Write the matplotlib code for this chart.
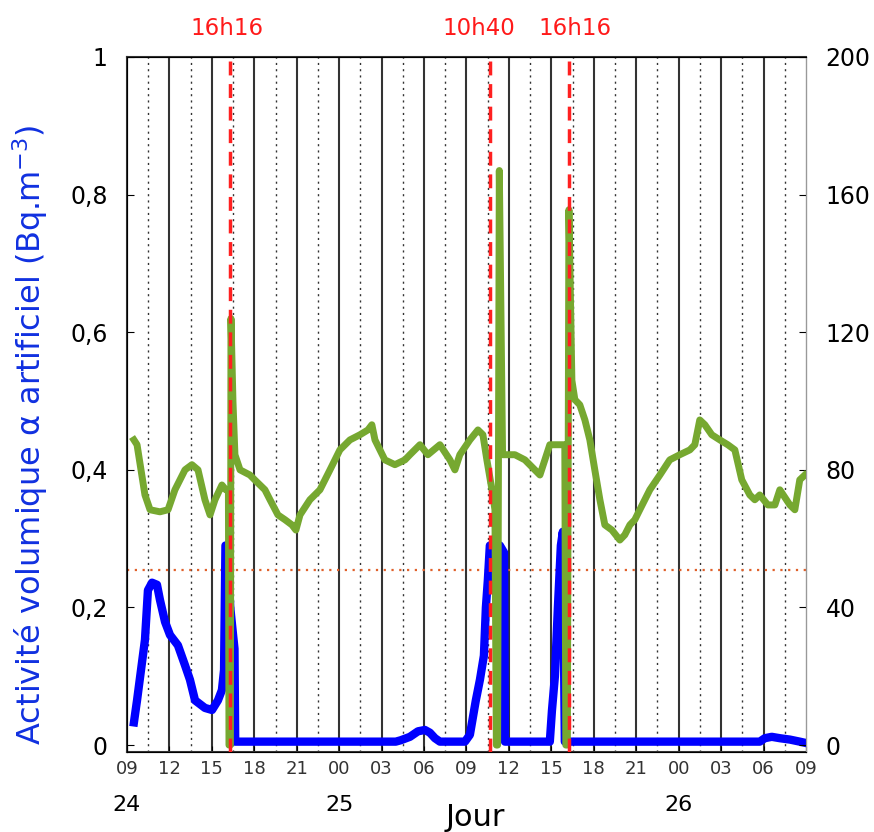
import numpy as np
import matplotlib
matplotlib.use("Agg")
import matplotlib.pyplot as plt
import matplotlib.transforms as mtransforms

# temps en heures depuis le 24 a 09h00
green_t = [0.49, 0.71, 0.99, 1.27, 1.63, 2.33, 2.90, 3.39, 4.10, 4.59, 5.02, 5.51, 5.87, 6.22,
           6.71, 6.99, 7.17, 7.21, 7.31, 7.35, 7.49, 7.63, 7.99, 8.69, 9.05, 9.75, 10.11, 10.67,
           11.17, 11.66, 11.94, 12.23, 12.93, 13.64, 14.35, 14.70, 15.05, 15.76, 16.47, 17.03,
           17.31, 17.53, 18.23, 18.94, 19.65, 20.00, 20.71, 21.27, 22.12, 22.83, 23.18, 23.53,
           24.24, 24.81, 25.16, 25.44, 25.80, 26.01, 26.11, 26.20, 26.32, 26.55, 26.71, 27.42,
           28.13, 28.83, 29.19, 29.54, 29.89, 30.60, 30.95, 31.02, 31.13, 31.24, 31.45, 31.66,
           32.01, 32.37, 32.72, 33.07, 33.43, 33.78, 34.28, 34.84, 35.19, 35.55, 35.90, 36.25,
           36.96, 37.67, 38.37, 39.08, 39.79, 40.14, 40.49, 40.85, 41.34, 41.91, 42.47, 42.97,
           43.46, 44.03, 44.38, 44.73, 45.30, 45.80, 46.15, 46.86, 47.21, 47.56, 47.92]
green_v = [88.7, 87.3, 80.0, 72.7, 68.4, 67.8, 68.4, 74.2, 80.0, 81.5, 80.0, 71.3, 66.9, 71.3,
           75.6, 74.2, 74.0, 0.0, 0.0, 124.0, 100.0, 84.4, 80.0, 78.5, 77.0, 74.2, 71.3, 66.9,
           65.5, 64.0, 62.5, 66.9, 71.3, 74.2, 80.0, 82.9, 85.8, 88.7, 90.2, 91.6,
           93.1, 88.7, 82.9, 81.5, 82.9, 84.4, 87.3, 84.4, 87.3, 82.9, 80.0, 84.4,
           88.7, 91.6, 90.2, 82.9, 74.2, 68.4, 0.0, 0.0, 167.0, 84.4, 84.4, 84.4,
           82.9, 80.0, 78.5, 82.9, 87.3, 87.3, 87.3, 0.0, 0.0, 155.6, 106.0, 100.4,
           98.9, 94.5, 88.7, 80.0, 71.3, 64.0, 62.5, 59.6, 61.1, 64.0, 65.5, 68.4,
           74.2, 78.5, 82.9, 84.4, 85.8, 87.3, 94.5, 93.1, 90.2, 88.7, 87.3, 85.8,
           77.1, 72.7, 71.3, 72.7, 69.8, 69.8, 74.2, 69.8, 68.4, 77.1, 78.5]

blue_t = [0.49, 0.71, 0.99, 1.27, 1.48, 1.77, 2.12, 2.33, 2.69, 3.04, 3.60, 4.10, 4.45, 4.81,
          5.51, 6.01, 6.43, 6.71, 6.86, 6.96, 7.10, 7.30, 7.60, 7.65, 19.0, 19.35, 20.0, 20.57,
          21.06, 21.41, 21.77, 22.12, 23.89, 24.24, 24.45, 24.66, 24.95, 25.23, 25.37, 25.51,
          25.65, 26.08, 26.36, 26.65, 26.72, 29.89, 30.04, 30.25, 30.46, 30.67, 30.81, 30.95,
          44.73, 45.09, 45.58, 46.15, 46.86, 47.56, 48.0]
blue_v = [0.033, 0.065, 0.109, 0.153, 0.225, 0.236, 0.233, 0.211, 0.179, 0.160, 0.145, 0.116,
          0.095, 0.065, 0.054, 0.051, 0.065, 0.080, 0.109, 0.290, 0.290, 0.200, 0.140, 0.005,
          0.005, 0.007, 0.012, 0.020, 0.022, 0.018, 0.010, 0.005, 0.005, 0.015, 0.040, 0.065,
          0.095, 0.130, 0.200, 0.240, 0.290, 0.290, 0.290, 0.280, 0.005, 0.005, 0.050, 0.100,
          0.200, 0.290, 0.310, 0.005, 0.005, 0.010, 0.012, 0.010, 0.008, 0.005, 0.003]

events_t = [7.27, 25.67, 31.27]
events_lbl = ["16h16", "10h40", "16h16"]
seuil = 0.255

xticks = list(range(0, 49, 3))
xlabels = ["09", "12", "15", "18", "21", "00", "03", "06", "09",
           "12", "15", "18", "21", "00", "03", "06", "09"]
days_t = [0, 15, 39]
days_lbl = ["24", "25", "26"]

fig = plt.figure(figsize=(8.74, 8.32), dpi=100)
ax = fig.add_axes([0.1453, 0.0962, 0.7769, 0.8353])
ax2 = ax.twinx()

# grille verticale
for t in xticks[1:-1]:
    ax.axvline(t, color="#333333", lw=1.5, zorder=1)
for t in np.arange(1.5, 48, 3):
    ax.axvline(t, color="#333333", lw=1, ls=(0, (1.5, 3)), zorder=1)

ax.axhline(seuil, color="#e0602a", lw=1.6, ls=(0, (1, 2.5)), zorder=2)

ax.plot(blue_t, blue_v, color="#0000ff", lw=6, zorder=3)
ax2.plot(green_t, green_v, color="#76a830", lw=5, zorder=3)

# lignes rouges au-dessus de tout
for t in events_t:
    ax2.axvline(t, color="#ff2020", lw=2.5, ls=(0, (4, 2.5)), zorder=5)

ax.set_xlim(0, 48)
ax.set_ylim(-0.01, 1)
ax2.set_ylim(-2, 200)

ax.set_xticks(xticks)
ax.set_xticklabels(xlabels, fontsize=13, color="#333333")
ax.set_yticks([0, 0.2, 0.4, 0.6, 0.8, 1])
ax.set_yticklabels(["0", "0,2", "0,4", "0,6", "0,8", "1"], fontsize=17)
ax2.set_yticks([0, 40, 80, 120, 160, 200])
ax2.set_yticklabels(["0", "40", "80", "120", "160", "200"], fontsize=17)
ax.tick_params(axis="y", direction="in", length=5, pad=14)
ax.tick_params(axis="x", direction="in", length=4, pad=6)
ax2.tick_params(axis="y", direction="in", length=5, pad=14)

for sp in ["top", "bottom", "left"]:
    ax.spines[sp].set_color("#333333")
    ax.spines[sp].set_linewidth(1.5)
ax2.spines["right"].set_color("#999999")

fig.text(0.034, 0.477, "Activité volumique α artificiel (Bq.m$^{-3}$)", color="#1030e0",
         fontsize=23, rotation=90, ha="center", va="center")

trans_top = mtransforms.blended_transform_factory(ax.transData, fig.transFigure)
for t, lbl, dx in zip(events_t, events_lbl, [-0.2, -0.8, 0.4]):
    ax.text(t + dx, 0.966, lbl, transform=trans_top, color="#ff1a1a", fontsize=16.5,
            ha="center", va="center")
for t, lbl in zip(days_t, days_lbl):
    ax.text(t, 0.032, lbl, transform=trans_top, fontsize=16, ha="center", va="center")
fig.text(0.5435, 0.018, "Jour", fontsize=22, ha="center", va="center")

fig.savefig("out.png", dpi=100)
